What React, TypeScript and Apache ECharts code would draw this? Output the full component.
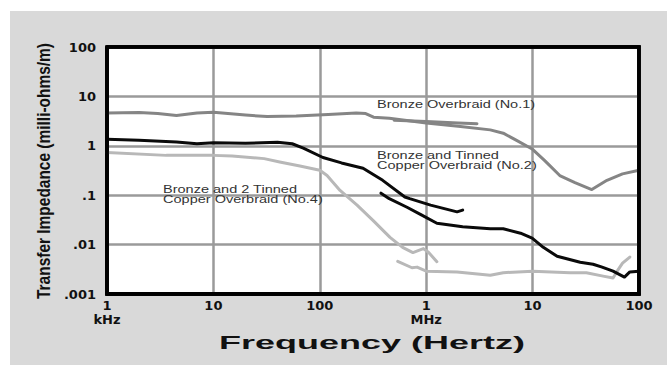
import React, { useEffect, useRef } from "react";
import * as echarts from "echarts";

// Axis extents and tick labels
const xExtent = [1e3, 1e8];
const yExtent = [0.001, 100];
const xTickLabels = ["1\nkHz", "10", "100", "1\nMHz", "10", "100"];
const yTickLabels = [".001", ".01", ".1", "1", "10", "100"];

// Series data: [frequency in Hz, impedance in milli-ohms/m]
const no1 = [[1e3,4.6],[2e3,4.7],[3e3,4.5],[4.5e3,4.1],[7e3,4.6],[1e4,4.8],[2e4,4.2],[3.2e4,3.9],[6e4,4.0],[1.2e5,4.3],[2.2e5,4.6],[2.7e5,4.5],[3.2e5,3.8],[4.5e5,3.6],[1e6,2.9],[2e6,2.5],[4e6,2.1],[5.3e6,1.8],[7e6,1.3],[1e7,0.85],[1.3e7,0.5],[1.8e7,0.25],[2.5e7,0.18],[3.6e7,0.13],[5e7,0.2],[7e7,0.27],[1e8,0.32]];
const no1b = [[5e5,3.3],[1e6,3.1],[2e6,2.9],[3e6,2.8]];
const no2 = [[1e3,1.35],[2e3,1.3],[4.5e3,1.2],[7e3,1.1],[1e4,1.15],[2e4,1.12],[4e4,1.18],[5.5e4,1.1],[7e4,0.9],[1.07e5,0.58],[1.6e5,0.45],[2.55e5,0.35],[3.9e5,0.2],[6.3e5,0.092],[7e5,0.085],[1.1e6,0.063],[1.95e6,0.046],[2.2e6,0.05]];
const no2b = [[3.76e5,0.11],[4.5e5,0.085],[6.6e5,0.057],[9e5,0.04],[1.26e6,0.027],[2.2e6,0.023],[4e6,0.021],[5.3e6,0.021],[7.7e6,0.017],[9.9e6,0.0135],[1.26e7,0.0088],[1.7e7,0.0058],[2.8e7,0.0044],[3.7e7,0.004],[4.5e7,0.0035],[5.7e7,0.0029],[7.3e7,0.0022],[8.2e7,0.0028],[1e8,0.0029]];
const no4 = [[1e3,0.73],[3.6e3,0.64],[1e4,0.64],[1.5e4,0.62],[3e4,0.55],[4.2e4,0.47],[6.5e4,0.39],[1e5,0.32],[1.17e5,0.25],[1.55e5,0.125],[2.24e5,0.063],[3.16e5,0.031],[4.57e5,0.014],[6e5,0.0088],[7.5e5,0.0069],[9.4e5,0.0083],[1.05e6,0.007],[1.26e6,0.0045]];
const no4b = [[5.4e5,0.0046],[7.35e5,0.0034],[8.2e5,0.0035],[1e6,0.0029],[1.95e6,0.0028],[4e6,0.0024],[5.3e6,0.0027],[1e7,0.0029],[2.25e7,0.0027],[3.2e7,0.0027],[4.6e7,0.0023],[5.7e7,0.0021],[6.3e7,0.003],[7e7,0.0042],[8.2e7,0.0056]];

// Plot frame traced along the axis extents
const frame = [
  [xExtent[0], yExtent[1]],
  [xExtent[1], yExtent[1]],
  [xExtent[1], yExtent[0]],
  [xExtent[0], yExtent[0]],
  [xExtent[0], yExtent[1]],
];

// Annotations anchored at data coordinates (top-left of text block)
const annotations = [
  { at: [3.45e5, 8.85], text: "Bronze Overbraid (No.1)" },
  { at: [3.45e5, 0.82], text: "Bronze and Tinned\nCopper Overbraid (No.2)" },
  { at: [3.36e3, 0.169], text: "Bronze and 2 Tinned\nCopper Overbraid (No.4)" },
];

const xTitle = "Frequency (Hertz)";
const yTitle = "Transfer Impedance (milli-ohms/m)";

const C1 = "#858585";
const C2 = "#0a0a0a";
const C4 = "#b8b8b8";

function line(name: string, data: number[][], color: string, width = 3, z = 3) {
  return {
    type: "line",
    name,
    data,
    showSymbol: false,
    symbol: "none",
    smooth: false,
    clip: false,
    silent: true,
    lineStyle: { color, width, join: "round", cap: "round" },
    z,
  };
}

const gridLine = { show: true, lineStyle: { color: "#9a9a9a", width: 2.5 } };
const frameAxisLine = { show: true, onZero: false, lineStyle: { color: "#000", width: 3.5 } };

// Chart box sits inside the page with a white strip left/top
const OFF_X = 10;
const OFF_Y = 11;

export default function App() {
  const ref = useRef<HTMLDivElement>(null);
  useEffect(() => {
    document.body.style.margin = "0";
    const chart = echarts.init(ref.current!, null, { renderer: "svg" });
    const logIdx = (v: number) => Math.round(Math.log10(v));
    chart.setOption({
      animation: false,
      backgroundColor: "#d9d9d9",
      grid: {
        left: 107 - OFF_X,
        top: 47 - OFF_Y,
        width: 532,
        height: 247,
        show: true,
        backgroundColor: "#ffffff",
        borderWidth: 3.5,
        borderColor: "#000",
      },
      xAxis: {
        type: "log",
        logBase: 10,
        min: xExtent[0],
        max: xExtent[1],
        axisTick: { show: false },
        axisLine: frameAxisLine,
        splitLine: gridLine,
        axisLabel: {
          margin: 4,
          fontFamily: "DejaVu Sans",
          fontWeight: "bold",
          fontSize: 13,
          lineHeight: 14,
          color: "#111",
          formatter: (v: number) => xTickLabels[logIdx(v) - 3] ?? "",
        },
      },
      yAxis: {
        type: "log",
        logBase: 10,
        min: yExtent[0],
        max: yExtent[1],
        axisTick: { show: false },
        axisLine: frameAxisLine,
        splitLine: gridLine,
        axisLabel: {
          margin: 11,
          fontFamily: "DejaVu Sans",
          fontWeight: "bold",
          fontSize: 13,
          color: "#111",
          formatter: (v: number) => yTickLabels[logIdx(v) + 3] ?? "",
        },
      },
      series: [
        line("Bronze Overbraid (No.1)", no1, C1),
        line("Bronze Overbraid (No.1) b", no1b, C1),
        line("Bronze and 2 Tinned Copper Overbraid (No.4)", no4, C4),
        line("Bronze and 2 Tinned Copper Overbraid (No.4) b", no4b, C4),
        line("Bronze and Tinned Copper Overbraid (No.2)", no2, C2),
        line("Bronze and Tinned Copper Overbraid (No.2) b", no2b, C2),
        line("frame", frame, "#000000", 3.5, 20),
      ],
    });

    const toPx = (pt: number[]) => chart.convertToPixel({ gridIndex: 0 }, pt) as number[];
    const tl = toPx([xExtent[0], yExtent[1]]);
    const br = toPx([xExtent[1], yExtent[0]]);

    const annots = annotations.map((a) => {
      const p = toPx(a.at);
      return {
        type: "text",
        x: p[0],
        y: p[1],
        scaleX: 1.32,
        z: 10,
        style: {
          text: a.text,
          fontFamily: "Liberation Sans",
          fontSize: 11,
          lineHeight: 10,
          fill: "#333",
          textAlign: "left",
          textVerticalAlign: "top",
        },
      };
    });

    chart.setOption({
      graphic: [
        {
          type: "polyline",
          z: 50,
          shape: {
            points: [
              [tl[0], tl[1]],
              [br[0], tl[1]],
              [br[0], br[1]],
              [tl[0], br[1]],
              [tl[0], tl[1]],
            ],
          },
          style: { stroke: "#000", lineWidth: 3.5, fill: null },
          silent: true,
        },
        {
          type: "text",
          x: 372 - OFF_X,
          y: 343 - OFF_Y,
          scaleX: 2.0,
          z: 10,
          style: {
            text: xTitle,
            fontFamily: "Liberation Sans",
            fontWeight: "bold",
            fontSize: 18,
            fill: "#111",
            textAlign: "center",
            textVerticalAlign: "middle",
          },
        },
        {
          type: "text",
          x: 44 - OFF_X,
          y: 171 - OFF_Y,
          rotation: Math.PI / 2,
          scaleX: 0.86,
          z: 10,
          style: {
            text: yTitle,
            fontFamily: "Liberation Sans",
            fontWeight: "bold",
            fontSize: 18,
            fill: "#111",
            textAlign: "center",
            textVerticalAlign: "middle",
          },
        },
        ...annots,
      ],
    });
    return () => chart.dispose();
  }, []);
  return (
    <div style={{ width: 667, height: 365, background: "#ffffff", position: "relative", overflow: "hidden" }}>
      <div
        ref={ref}
        style={{ position: "absolute", left: OFF_X, top: OFF_Y, width: 667 - OFF_X, height: 365 - OFF_Y }}
      />
    </div>
  );
}
